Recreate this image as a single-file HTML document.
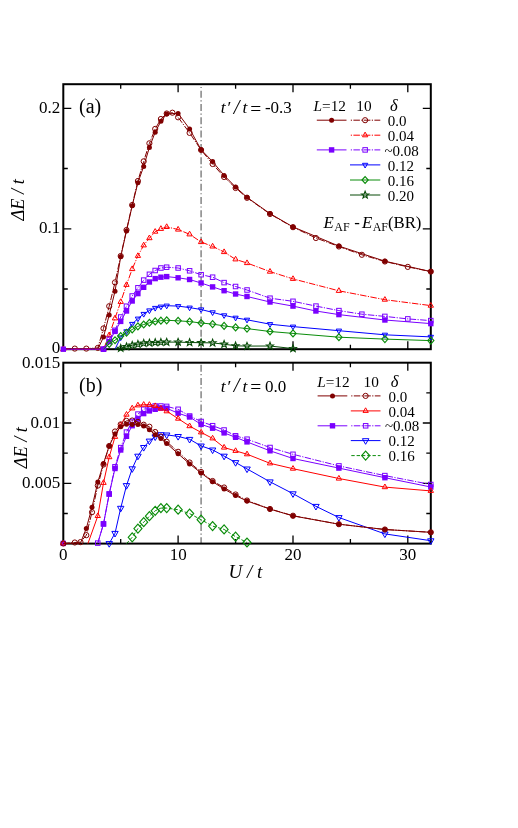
<!DOCTYPE html>
<html><head><meta charset="utf-8"><title>figure</title>
<style>
html,body{margin:0;padding:0;background:#fff;}
body{width:518px;height:828px;overflow:hidden;}
svg{display:block;will-change:transform;}
text{font-family:"Liberation Serif",serif;fill:#000;}
.i{font-style:italic;}
</style></head><body>
<svg width="518" height="828" viewBox="0 0 518 828">
<rect width="518" height="828" fill="#fff"/>
<g stroke="#858585" stroke-width="1.5" stroke-dasharray="7 2.4 1.2 2.68" fill="none">
<line x1="201.1" y1="84.2" x2="201.1" y2="349" stroke-dashoffset="6.7"/>
<line x1="201.1" y1="362.7" x2="201.1" y2="543.5" stroke-dashoffset="11.3"/>
</g>
<g stroke="#000" stroke-width="1.3" fill="none">
<path d="M120.7 84.2v4.5M120.7 349.2v-4.5"/>
<path d="M178.1 84.2v8M178.1 349.2v-8"/>
<path d="M235.6 84.2v4.5M235.6 349.2v-4.5"/>
<path d="M293.0 84.2v8M293.0 349.2v-8"/>
<path d="M350.4 84.2v4.5M350.4 349.2v-4.5"/>
<path d="M407.8 84.2v8M407.8 349.2v-8"/>
<path d="M63.3 108.3h8M430.8 108.3h-8"/>
<path d="M63.3 228.8h8M430.8 228.8h-8"/>
<path d="M63.3 168.5h4.5M430.8 168.5h-4.5"/>
<path d="M63.3 289.0h4.5M430.8 289.0h-4.5"/>
</g>
<g stroke="#000" stroke-width="1.3" fill="none">
<path d="M120.7 362.7v4.5M120.7 543.6v-4.5"/>
<path d="M178.1 362.7v8M178.1 543.6v-8"/>
<path d="M235.6 362.7v4.5M235.6 543.6v-4.5"/>
<path d="M293.0 362.7v8M293.0 543.6v-8"/>
<path d="M350.4 362.7v4.5M350.4 543.6v-4.5"/>
<path d="M407.8 362.7v8M407.8 543.6v-8"/>
<path d="M63.3 423.0h8M430.8 423.0h-8"/>
<path d="M63.3 483.3h8M430.8 483.3h-8"/>
<path d="M63.3 392.9h4.5M430.8 392.9h-4.5"/>
<path d="M63.3 453.1h4.5M430.8 453.1h-4.5"/>
<path d="M63.3 513.5h4.5M430.8 513.5h-4.5"/>
</g>
<g fill="none" stroke="#000" stroke-width="2">
<rect x="63.3" y="84.2" width="367.5" height="265"/>
<rect x="63.3" y="362.7" width="367.5" height="180.9"/>
</g>
<g id="pa">
<polyline points="63.3,349.2 97.8,349.2 103.5,337.1 109.2,314.9 115.0,291.3 120.7,256.8 126.5,230.9 132.2,205.8 137.9,182.7 143.7,166.4 149.4,147.4 155.2,132.2 160.9,121.3 166.7,113.9 178.1,113.4 189.6,128.9 201.1,149.7 212.6,161.6 224.1,175.4 235.6,187.0 247.0,197.3 270.0,213.6 293.0,226.9 338.9,246.1 384.9,261.2 430.8,271.6" fill="none" stroke="#800000" stroke-width="1.0"/>
<circle cx="103.5" cy="337.1" r="2.50" fill="#800000"/>
<circle cx="109.2" cy="314.9" r="2.50" fill="#800000"/>
<circle cx="115.0" cy="291.3" r="2.50" fill="#800000"/>
<circle cx="120.7" cy="256.8" r="2.50" fill="#800000"/>
<circle cx="126.5" cy="230.9" r="2.50" fill="#800000"/>
<circle cx="132.2" cy="205.8" r="2.50" fill="#800000"/>
<circle cx="137.9" cy="182.7" r="2.50" fill="#800000"/>
<circle cx="143.7" cy="166.4" r="2.50" fill="#800000"/>
<circle cx="149.4" cy="147.4" r="2.50" fill="#800000"/>
<circle cx="155.2" cy="132.2" r="2.50" fill="#800000"/>
<circle cx="160.9" cy="121.3" r="2.50" fill="#800000"/>
<circle cx="166.7" cy="113.9" r="2.50" fill="#800000"/>
<circle cx="178.1" cy="113.4" r="2.50" fill="#800000"/>
<circle cx="189.6" cy="128.9" r="2.50" fill="#800000"/>
<circle cx="201.1" cy="149.7" r="2.50" fill="#800000"/>
<circle cx="212.6" cy="161.6" r="2.50" fill="#800000"/>
<circle cx="224.1" cy="175.4" r="2.50" fill="#800000"/>
<circle cx="235.6" cy="187.0" r="2.50" fill="#800000"/>
<circle cx="247.0" cy="197.3" r="2.50" fill="#800000"/>
<circle cx="270.0" cy="213.6" r="2.50" fill="#800000"/>
<circle cx="293.0" cy="226.9" r="2.50" fill="#800000"/>
<circle cx="338.9" cy="246.1" r="2.50" fill="#800000"/>
<circle cx="384.9" cy="261.2" r="2.50" fill="#800000"/>
<circle cx="430.8" cy="271.6" r="2.50" fill="#800000"/>
<polyline points="63.3,349.2 74.8,348.6 86.3,348.6 97.8,347.9 103.5,328.4 109.2,306.2 115.0,282.4 120.7,256.0 126.5,230.0 132.2,205.0 137.9,181.0 143.7,161.3 149.4,143.3 155.2,128.9 160.9,119.0 166.7,113.5 172.4,112.7 178.1,117.3 189.6,132.9 201.1,150.0 212.6,164.0 224.1,177.0 235.6,188.0 247.0,197.8 270.0,214.0 293.0,227.2 315.9,238.0 338.9,246.5 361.9,254.8 384.9,261.5 407.8,266.9 430.8,271.6" fill="none" stroke="#800000" stroke-width="1.0" stroke-dasharray="6.5 1.4 1.2 1.4"/>
<circle cx="74.8" cy="348.6" r="2.60" fill="none" stroke="#800000" stroke-width="1.0"/>
<circle cx="86.3" cy="348.6" r="2.60" fill="none" stroke="#800000" stroke-width="1.0"/>
<circle cx="97.8" cy="347.9" r="2.60" fill="none" stroke="#800000" stroke-width="1.0"/>
<circle cx="103.5" cy="328.4" r="2.60" fill="none" stroke="#800000" stroke-width="1.0"/>
<circle cx="109.2" cy="306.2" r="2.60" fill="none" stroke="#800000" stroke-width="1.0"/>
<circle cx="115.0" cy="282.4" r="2.60" fill="none" stroke="#800000" stroke-width="1.0"/>
<circle cx="120.7" cy="256.0" r="2.60" fill="none" stroke="#800000" stroke-width="1.0"/>
<circle cx="126.5" cy="230.0" r="2.60" fill="none" stroke="#800000" stroke-width="1.0"/>
<circle cx="132.2" cy="205.0" r="2.60" fill="none" stroke="#800000" stroke-width="1.0"/>
<circle cx="137.9" cy="181.0" r="2.60" fill="none" stroke="#800000" stroke-width="1.0"/>
<circle cx="143.7" cy="161.3" r="2.60" fill="none" stroke="#800000" stroke-width="1.0"/>
<circle cx="149.4" cy="143.3" r="2.60" fill="none" stroke="#800000" stroke-width="1.0"/>
<circle cx="155.2" cy="128.9" r="2.60" fill="none" stroke="#800000" stroke-width="1.0"/>
<circle cx="160.9" cy="119.0" r="2.60" fill="none" stroke="#800000" stroke-width="1.0"/>
<circle cx="166.7" cy="113.5" r="2.60" fill="none" stroke="#800000" stroke-width="1.0"/>
<circle cx="172.4" cy="112.7" r="2.60" fill="none" stroke="#800000" stroke-width="1.0"/>
<circle cx="178.1" cy="117.3" r="2.60" fill="none" stroke="#800000" stroke-width="1.0"/>
<circle cx="189.6" cy="132.9" r="2.60" fill="none" stroke="#800000" stroke-width="1.0"/>
<circle cx="201.1" cy="150.0" r="2.60" fill="none" stroke="#800000" stroke-width="1.0"/>
<circle cx="212.6" cy="164.0" r="2.60" fill="none" stroke="#800000" stroke-width="1.0"/>
<circle cx="224.1" cy="177.0" r="2.60" fill="none" stroke="#800000" stroke-width="1.0"/>
<circle cx="235.6" cy="188.0" r="2.60" fill="none" stroke="#800000" stroke-width="1.0"/>
<circle cx="247.0" cy="197.8" r="2.60" fill="none" stroke="#800000" stroke-width="1.0"/>
<circle cx="270.0" cy="214.0" r="2.60" fill="none" stroke="#800000" stroke-width="1.0"/>
<circle cx="293.0" cy="227.2" r="2.60" fill="none" stroke="#800000" stroke-width="1.0"/>
<circle cx="315.9" cy="238.0" r="2.60" fill="none" stroke="#800000" stroke-width="1.0"/>
<circle cx="338.9" cy="246.5" r="2.60" fill="none" stroke="#800000" stroke-width="1.0"/>
<circle cx="361.9" cy="254.8" r="2.60" fill="none" stroke="#800000" stroke-width="1.0"/>
<circle cx="384.9" cy="261.5" r="2.60" fill="none" stroke="#800000" stroke-width="1.0"/>
<circle cx="407.8" cy="266.9" r="2.60" fill="none" stroke="#800000" stroke-width="1.0"/>
<circle cx="430.8" cy="271.6" r="2.60" fill="none" stroke="#800000" stroke-width="1.0"/>
<polyline points="63.3,349.2 103.5,349.2 109.2,335.1 115.0,318.3 120.7,301.9 126.5,284.9 132.2,269.0 137.9,255.9 143.7,245.3 149.4,238.1 155.2,231.7 160.9,228.8 166.7,226.9 178.1,229.5 189.6,234.3 201.1,242.0 212.6,246.4 224.1,252.0 235.6,259.4 247.0,263.0 270.0,271.6 293.0,278.9 338.9,290.8 384.9,299.7 430.8,305.6" fill="none" stroke="#ff0000" stroke-width="1.0" stroke-dasharray="6.5 1.4 1.2 1.4"/>
<path d="M60.6 350.8L66.0 350.8L63.3 346.1Z" fill="none" stroke="#ff0000" stroke-width="1.0"/>
<path d="M100.8 350.8L106.2 350.8L103.5 346.1Z" fill="none" stroke="#ff0000" stroke-width="1.0"/>
<path d="M106.6 336.7L111.9 336.7L109.2 332.0Z" fill="none" stroke="#ff0000" stroke-width="1.0"/>
<path d="M112.3 319.9L117.7 319.9L115.0 315.2Z" fill="none" stroke="#ff0000" stroke-width="1.0"/>
<path d="M118.0 303.4L123.4 303.4L120.7 298.8Z" fill="none" stroke="#ff0000" stroke-width="1.0"/>
<path d="M123.8 286.4L129.1 286.4L126.5 281.8Z" fill="none" stroke="#ff0000" stroke-width="1.0"/>
<path d="M129.5 270.6L134.9 270.6L132.2 265.9Z" fill="none" stroke="#ff0000" stroke-width="1.0"/>
<path d="M135.3 257.4L140.6 257.4L137.9 252.8Z" fill="none" stroke="#ff0000" stroke-width="1.0"/>
<path d="M141.0 246.9L146.4 246.9L143.7 242.2Z" fill="none" stroke="#ff0000" stroke-width="1.0"/>
<path d="M146.7 239.7L152.1 239.7L149.4 235.0Z" fill="none" stroke="#ff0000" stroke-width="1.0"/>
<path d="M152.5 233.2L157.9 233.2L155.2 228.6Z" fill="none" stroke="#ff0000" stroke-width="1.0"/>
<path d="M158.2 230.4L163.6 230.4L160.9 225.7Z" fill="none" stroke="#ff0000" stroke-width="1.0"/>
<path d="M164.0 228.5L169.3 228.5L166.7 223.8Z" fill="none" stroke="#ff0000" stroke-width="1.0"/>
<path d="M175.5 231.1L180.8 231.1L178.1 226.4Z" fill="none" stroke="#ff0000" stroke-width="1.0"/>
<path d="M186.9 235.9L192.3 235.9L189.6 231.2Z" fill="none" stroke="#ff0000" stroke-width="1.0"/>
<path d="M198.4 243.6L203.8 243.6L201.1 238.9Z" fill="none" stroke="#ff0000" stroke-width="1.0"/>
<path d="M209.9 248.0L215.3 248.0L212.6 243.3Z" fill="none" stroke="#ff0000" stroke-width="1.0"/>
<path d="M221.4 253.6L226.8 253.6L224.1 248.9Z" fill="none" stroke="#ff0000" stroke-width="1.0"/>
<path d="M232.9 260.9L238.2 260.9L235.6 256.3Z" fill="none" stroke="#ff0000" stroke-width="1.0"/>
<path d="M244.4 264.6L249.7 264.6L247.0 259.9Z" fill="none" stroke="#ff0000" stroke-width="1.0"/>
<path d="M267.3 273.2L272.7 273.2L270.0 268.5Z" fill="none" stroke="#ff0000" stroke-width="1.0"/>
<path d="M290.3 280.4L295.7 280.4L293.0 275.8Z" fill="none" stroke="#ff0000" stroke-width="1.0"/>
<path d="M336.2 292.4L341.6 292.4L338.9 287.7Z" fill="none" stroke="#ff0000" stroke-width="1.0"/>
<path d="M382.2 301.2L387.5 301.2L384.9 296.6Z" fill="none" stroke="#ff0000" stroke-width="1.0"/>
<path d="M428.1 307.2L433.5 307.2L430.8 302.5Z" fill="none" stroke="#ff0000" stroke-width="1.0"/>
<polyline points="63.3,349.2 103.5,349.2 109.2,341.7 115.0,331.4 120.7,321.4 126.5,311.0 132.2,301.0 137.9,293.6 143.7,287.3 149.4,282.0 155.2,278.6 160.9,277.2 166.7,276.6 178.1,277.8 189.6,279.5 201.1,283.0 212.6,286.9 224.1,290.7 235.6,294.0 247.0,296.5 270.0,302.0 293.0,306.1 315.9,311.0 338.9,314.6 384.9,320.0 430.8,323.6" fill="none" stroke="#7a00ff" stroke-width="1.0"/>
<rect x="60.6" y="346.5" width="5.4" height="5.4" fill="#7a00ff"/>
<rect x="100.8" y="346.5" width="5.4" height="5.4" fill="#7a00ff"/>
<rect x="106.5" y="339.0" width="5.4" height="5.4" fill="#7a00ff"/>
<rect x="112.3" y="328.7" width="5.4" height="5.4" fill="#7a00ff"/>
<rect x="118.0" y="318.7" width="5.4" height="5.4" fill="#7a00ff"/>
<rect x="123.8" y="308.3" width="5.4" height="5.4" fill="#7a00ff"/>
<rect x="129.5" y="298.3" width="5.4" height="5.4" fill="#7a00ff"/>
<rect x="135.2" y="290.9" width="5.4" height="5.4" fill="#7a00ff"/>
<rect x="141.0" y="284.6" width="5.4" height="5.4" fill="#7a00ff"/>
<rect x="146.7" y="279.3" width="5.4" height="5.4" fill="#7a00ff"/>
<rect x="152.5" y="275.9" width="5.4" height="5.4" fill="#7a00ff"/>
<rect x="158.2" y="274.5" width="5.4" height="5.4" fill="#7a00ff"/>
<rect x="164.0" y="273.9" width="5.4" height="5.4" fill="#7a00ff"/>
<rect x="175.4" y="275.1" width="5.4" height="5.4" fill="#7a00ff"/>
<rect x="186.9" y="276.8" width="5.4" height="5.4" fill="#7a00ff"/>
<rect x="198.4" y="280.3" width="5.4" height="5.4" fill="#7a00ff"/>
<rect x="209.9" y="284.2" width="5.4" height="5.4" fill="#7a00ff"/>
<rect x="221.4" y="288.0" width="5.4" height="5.4" fill="#7a00ff"/>
<rect x="232.9" y="291.3" width="5.4" height="5.4" fill="#7a00ff"/>
<rect x="244.3" y="293.8" width="5.4" height="5.4" fill="#7a00ff"/>
<rect x="267.3" y="299.3" width="5.4" height="5.4" fill="#7a00ff"/>
<rect x="290.3" y="303.4" width="5.4" height="5.4" fill="#7a00ff"/>
<rect x="313.2" y="308.3" width="5.4" height="5.4" fill="#7a00ff"/>
<rect x="336.2" y="311.9" width="5.4" height="5.4" fill="#7a00ff"/>
<rect x="382.2" y="317.3" width="5.4" height="5.4" fill="#7a00ff"/>
<rect x="428.1" y="320.9" width="5.4" height="5.4" fill="#7a00ff"/>
<polyline points="103.5,349.2 109.2,339.3 115.0,330.3 120.7,317.0 126.5,306.2 132.2,296.0 137.9,287.8 143.7,280.1 149.4,274.3 155.2,270.5 160.9,268.0 166.7,267.2 178.1,268.0 189.6,270.8 201.1,274.7 212.6,277.2 224.1,282.6 235.6,286.5 247.0,290.0 270.0,298.2 293.0,301.3 315.9,306.1 338.9,310.6 361.9,314.2 384.9,316.4 407.8,318.9 430.8,320.6" fill="none" stroke="#7a00ff" stroke-width="1.0" stroke-dasharray="6.5 1.4 1.2 1.4"/>
<rect x="101.24" y="346.95" width="4.50" height="4.50" fill="none" stroke="#7a00ff" stroke-width="1.0"/>
<rect x="106.99" y="337.05" width="4.50" height="4.50" fill="none" stroke="#7a00ff" stroke-width="1.0"/>
<rect x="112.73" y="328.05" width="4.50" height="4.50" fill="none" stroke="#7a00ff" stroke-width="1.0"/>
<rect x="118.47" y="314.75" width="4.50" height="4.50" fill="none" stroke="#7a00ff" stroke-width="1.0"/>
<rect x="124.21" y="303.95" width="4.50" height="4.50" fill="none" stroke="#7a00ff" stroke-width="1.0"/>
<rect x="129.95" y="293.75" width="4.50" height="4.50" fill="none" stroke="#7a00ff" stroke-width="1.0"/>
<rect x="135.70" y="285.55" width="4.50" height="4.50" fill="none" stroke="#7a00ff" stroke-width="1.0"/>
<rect x="141.44" y="277.85" width="4.50" height="4.50" fill="none" stroke="#7a00ff" stroke-width="1.0"/>
<rect x="147.18" y="272.05" width="4.50" height="4.50" fill="none" stroke="#7a00ff" stroke-width="1.0"/>
<rect x="152.92" y="268.25" width="4.50" height="4.50" fill="none" stroke="#7a00ff" stroke-width="1.0"/>
<rect x="158.66" y="265.75" width="4.50" height="4.50" fill="none" stroke="#7a00ff" stroke-width="1.0"/>
<rect x="164.41" y="264.95" width="4.50" height="4.50" fill="none" stroke="#7a00ff" stroke-width="1.0"/>
<rect x="175.89" y="265.75" width="4.50" height="4.50" fill="none" stroke="#7a00ff" stroke-width="1.0"/>
<rect x="187.37" y="268.55" width="4.50" height="4.50" fill="none" stroke="#7a00ff" stroke-width="1.0"/>
<rect x="198.86" y="272.45" width="4.50" height="4.50" fill="none" stroke="#7a00ff" stroke-width="1.0"/>
<rect x="210.34" y="274.95" width="4.50" height="4.50" fill="none" stroke="#7a00ff" stroke-width="1.0"/>
<rect x="221.83" y="280.35" width="4.50" height="4.50" fill="none" stroke="#7a00ff" stroke-width="1.0"/>
<rect x="233.31" y="284.25" width="4.50" height="4.50" fill="none" stroke="#7a00ff" stroke-width="1.0"/>
<rect x="244.79" y="287.75" width="4.50" height="4.50" fill="none" stroke="#7a00ff" stroke-width="1.0"/>
<rect x="267.76" y="295.95" width="4.50" height="4.50" fill="none" stroke="#7a00ff" stroke-width="1.0"/>
<rect x="290.73" y="299.05" width="4.50" height="4.50" fill="none" stroke="#7a00ff" stroke-width="1.0"/>
<rect x="313.70" y="303.85" width="4.50" height="4.50" fill="none" stroke="#7a00ff" stroke-width="1.0"/>
<rect x="336.67" y="308.35" width="4.50" height="4.50" fill="none" stroke="#7a00ff" stroke-width="1.0"/>
<rect x="359.63" y="311.95" width="4.50" height="4.50" fill="none" stroke="#7a00ff" stroke-width="1.0"/>
<rect x="382.60" y="314.15" width="4.50" height="4.50" fill="none" stroke="#7a00ff" stroke-width="1.0"/>
<rect x="405.57" y="316.65" width="4.50" height="4.50" fill="none" stroke="#7a00ff" stroke-width="1.0"/>
<rect x="428.54" y="318.35" width="4.50" height="4.50" fill="none" stroke="#7a00ff" stroke-width="1.0"/>
<polyline points="115.0,349.2 120.7,337.5 126.5,331.4 132.2,324.0 137.9,318.6 143.7,314.0 149.4,310.5 155.2,308.0 160.9,306.6 166.7,305.7 178.1,306.1 189.6,307.6 201.1,309.5 212.6,312.4 224.1,315.3 235.6,317.8 247.0,319.8 270.0,324.2 293.0,326.6 338.9,330.7 384.9,334.8 430.8,336.9" fill="none" stroke="#0000ff" stroke-width="1.0"/>
<path d="M118.0 335.9L123.4 335.9L120.7 340.6Z" fill="none" stroke="#0000ff" stroke-width="1.0"/>
<path d="M123.8 329.8L129.1 329.8L126.5 334.5Z" fill="none" stroke="#0000ff" stroke-width="1.0"/>
<path d="M129.5 322.4L134.9 322.4L132.2 327.1Z" fill="none" stroke="#0000ff" stroke-width="1.0"/>
<path d="M135.3 317.1L140.6 317.1L137.9 321.7Z" fill="none" stroke="#0000ff" stroke-width="1.0"/>
<path d="M141.0 312.4L146.4 312.4L143.7 317.1Z" fill="none" stroke="#0000ff" stroke-width="1.0"/>
<path d="M146.7 308.9L152.1 308.9L149.4 313.6Z" fill="none" stroke="#0000ff" stroke-width="1.0"/>
<path d="M152.5 306.4L157.9 306.4L155.2 311.1Z" fill="none" stroke="#0000ff" stroke-width="1.0"/>
<path d="M158.2 305.1L163.6 305.1L160.9 309.7Z" fill="none" stroke="#0000ff" stroke-width="1.0"/>
<path d="M164.0 304.1L169.3 304.1L166.7 308.8Z" fill="none" stroke="#0000ff" stroke-width="1.0"/>
<path d="M175.5 304.6L180.8 304.6L178.1 309.2Z" fill="none" stroke="#0000ff" stroke-width="1.0"/>
<path d="M186.9 306.1L192.3 306.1L189.6 310.7Z" fill="none" stroke="#0000ff" stroke-width="1.0"/>
<path d="M198.4 307.9L203.8 307.9L201.1 312.6Z" fill="none" stroke="#0000ff" stroke-width="1.0"/>
<path d="M209.9 310.8L215.3 310.8L212.6 315.5Z" fill="none" stroke="#0000ff" stroke-width="1.0"/>
<path d="M221.4 313.8L226.8 313.8L224.1 318.4Z" fill="none" stroke="#0000ff" stroke-width="1.0"/>
<path d="M232.9 316.2L238.2 316.2L235.6 320.9Z" fill="none" stroke="#0000ff" stroke-width="1.0"/>
<path d="M244.4 318.2L249.7 318.2L247.0 322.9Z" fill="none" stroke="#0000ff" stroke-width="1.0"/>
<path d="M267.3 322.6L272.7 322.6L270.0 327.3Z" fill="none" stroke="#0000ff" stroke-width="1.0"/>
<path d="M290.3 325.1L295.7 325.1L293.0 329.7Z" fill="none" stroke="#0000ff" stroke-width="1.0"/>
<path d="M336.2 329.1L341.6 329.1L338.9 333.8Z" fill="none" stroke="#0000ff" stroke-width="1.0"/>
<path d="M382.2 333.2L387.5 333.2L384.9 337.9Z" fill="none" stroke="#0000ff" stroke-width="1.0"/>
<path d="M428.1 335.3L433.5 335.3L430.8 340.0Z" fill="none" stroke="#0000ff" stroke-width="1.0"/>
<polyline points="103.5,349.2 109.2,343.9 115.0,340.2 120.7,336.0 126.5,332.8 132.2,329.5 137.9,326.4 143.7,324.5 149.4,322.8 155.2,321.4 160.9,320.7 166.7,320.3 178.1,320.8 189.6,321.6 201.1,323.0 212.6,324.1 224.1,325.9 235.6,327.4 247.0,328.6 270.0,331.5 293.0,333.4 338.9,337.2 384.9,339.1 430.8,340.6" fill="none" stroke="#0a8c0a" stroke-width="1.0"/>
<path d="M106.1 343.9L109.2 340.4L112.3 343.9L109.2 347.3Z" fill="none" stroke="#0a8c0a" stroke-width="1.15"/>
<path d="M111.9 340.2L115.0 336.8L118.1 340.2L115.0 343.6Z" fill="none" stroke="#0a8c0a" stroke-width="1.15"/>
<path d="M117.6 336.0L120.7 332.6L123.8 336.0L120.7 339.4Z" fill="none" stroke="#0a8c0a" stroke-width="1.15"/>
<path d="M123.4 332.8L126.5 329.4L129.6 332.8L126.5 336.2Z" fill="none" stroke="#0a8c0a" stroke-width="1.15"/>
<path d="M129.1 329.5L132.2 326.1L135.3 329.5L132.2 332.9Z" fill="none" stroke="#0a8c0a" stroke-width="1.15"/>
<path d="M134.8 326.4L137.9 322.9L141.0 326.4L137.9 329.8Z" fill="none" stroke="#0a8c0a" stroke-width="1.15"/>
<path d="M140.6 324.5L143.7 321.1L146.8 324.5L143.7 327.9Z" fill="none" stroke="#0a8c0a" stroke-width="1.15"/>
<path d="M146.3 322.8L149.4 319.4L152.5 322.8L149.4 326.2Z" fill="none" stroke="#0a8c0a" stroke-width="1.15"/>
<path d="M152.1 321.4L155.2 317.9L158.3 321.4L155.2 324.8Z" fill="none" stroke="#0a8c0a" stroke-width="1.15"/>
<path d="M157.8 320.7L160.9 317.2L164.0 320.7L160.9 324.1Z" fill="none" stroke="#0a8c0a" stroke-width="1.15"/>
<path d="M163.6 320.3L166.7 316.9L169.8 320.3L166.7 323.8Z" fill="none" stroke="#0a8c0a" stroke-width="1.15"/>
<path d="M175.0 320.8L178.1 317.4L181.2 320.8L178.1 324.2Z" fill="none" stroke="#0a8c0a" stroke-width="1.15"/>
<path d="M186.5 321.6L189.6 318.2L192.7 321.6L189.6 325.1Z" fill="none" stroke="#0a8c0a" stroke-width="1.15"/>
<path d="M198.0 323.0L201.1 319.6L204.2 323.0L201.1 326.4Z" fill="none" stroke="#0a8c0a" stroke-width="1.15"/>
<path d="M209.5 324.1L212.6 320.7L215.7 324.1L212.6 327.6Z" fill="none" stroke="#0a8c0a" stroke-width="1.15"/>
<path d="M221.0 325.9L224.1 322.4L227.2 325.9L224.1 329.3Z" fill="none" stroke="#0a8c0a" stroke-width="1.15"/>
<path d="M232.5 327.4L235.6 323.9L238.7 327.4L235.6 330.8Z" fill="none" stroke="#0a8c0a" stroke-width="1.15"/>
<path d="M243.9 328.6L247.0 325.2L250.1 328.6L247.0 332.1Z" fill="none" stroke="#0a8c0a" stroke-width="1.15"/>
<path d="M266.9 331.5L270.0 328.1L273.1 331.5L270.0 334.9Z" fill="none" stroke="#0a8c0a" stroke-width="1.15"/>
<path d="M289.9 333.4L293.0 329.9L296.1 333.4L293.0 336.8Z" fill="none" stroke="#0a8c0a" stroke-width="1.15"/>
<path d="M335.8 337.2L338.9 333.8L342.0 337.2L338.9 340.6Z" fill="none" stroke="#0a8c0a" stroke-width="1.15"/>
<path d="M381.8 339.1L384.9 335.7L388.0 339.1L384.9 342.6Z" fill="none" stroke="#0a8c0a" stroke-width="1.15"/>
<path d="M427.7 340.6L430.8 337.2L433.9 340.6L430.8 344.1Z" fill="none" stroke="#0a8c0a" stroke-width="1.15"/>
<polyline points="115.0,349.2 120.7,348.3 126.5,346.7 132.2,345.2 137.9,344.2 143.7,343.2 149.4,342.9 155.2,342.5 160.9,342.3 166.7,342.1 178.1,342.1 189.6,342.5 201.1,342.7 212.6,342.9 224.1,344.2 235.6,345.8 247.0,346.1 270.0,346.0 293.0,348.6" fill="none" stroke="#064a06" stroke-width="1.0"/>
<path d="M120.7 344.6L121.6 347.0L124.2 347.2L122.2 348.8L122.9 351.3L120.7 349.9L118.5 351.3L119.2 348.8L117.2 347.2L119.8 347.0Z" fill="none" stroke="#064a06" stroke-width="1.1"/>
<path d="M126.5 343.0L127.4 345.4L130.0 345.6L127.9 347.2L128.6 349.7L126.5 348.2L124.3 349.7L125.0 347.2L122.9 345.6L125.6 345.4Z" fill="none" stroke="#064a06" stroke-width="1.1"/>
<path d="M132.2 341.5L133.1 343.9L135.7 344.1L133.7 345.7L134.4 348.2L132.2 346.8L130.0 348.2L130.7 345.7L128.7 344.1L131.3 343.9Z" fill="none" stroke="#064a06" stroke-width="1.1"/>
<path d="M137.9 340.5L138.9 342.9L141.5 343.1L139.4 344.7L140.1 347.2L137.9 345.8L135.8 347.2L136.5 344.7L134.4 343.1L137.0 342.9Z" fill="none" stroke="#064a06" stroke-width="1.1"/>
<path d="M143.7 339.5L144.6 341.9L147.2 342.1L145.2 343.7L145.9 346.2L143.7 344.8L141.5 346.2L142.2 343.7L140.2 342.1L142.8 341.9Z" fill="none" stroke="#064a06" stroke-width="1.1"/>
<path d="M149.4 339.2L150.3 341.6L152.9 341.8L150.9 343.4L151.6 345.9L149.4 344.4L147.3 345.9L148.0 343.4L145.9 341.8L148.5 341.6Z" fill="none" stroke="#064a06" stroke-width="1.1"/>
<path d="M155.2 338.8L156.1 341.2L158.7 341.4L156.6 343.0L157.3 345.5L155.2 344.1L153.0 345.5L153.7 343.0L151.7 341.4L154.3 341.2Z" fill="none" stroke="#064a06" stroke-width="1.1"/>
<path d="M160.9 338.6L161.8 341.0L164.4 341.2L162.4 342.8L163.1 345.3L160.9 343.9L158.7 345.3L159.4 342.8L157.4 341.2L160.0 341.0Z" fill="none" stroke="#064a06" stroke-width="1.1"/>
<path d="M166.7 338.4L167.6 340.8L170.2 341.0L168.1 342.6L168.8 345.1L166.7 343.7L164.5 345.1L165.2 342.6L163.1 341.0L165.7 340.8Z" fill="none" stroke="#064a06" stroke-width="1.1"/>
<path d="M178.1 338.4L179.1 340.8L181.7 341.0L179.6 342.6L180.3 345.1L178.1 343.7L176.0 345.1L176.7 342.6L174.6 341.0L177.2 340.8Z" fill="none" stroke="#064a06" stroke-width="1.1"/>
<path d="M189.6 338.8L190.5 341.2L193.1 341.4L191.1 343.0L191.8 345.5L189.6 344.1L187.4 345.5L188.1 343.0L186.1 341.4L188.7 341.2Z" fill="none" stroke="#064a06" stroke-width="1.1"/>
<path d="M201.1 339.0L202.0 341.4L204.6 341.6L202.6 343.2L203.3 345.7L201.1 344.2L198.9 345.7L199.6 343.2L197.6 341.6L200.2 341.4Z" fill="none" stroke="#064a06" stroke-width="1.1"/>
<path d="M212.6 339.2L213.5 341.6L216.1 341.8L214.1 343.4L214.8 345.9L212.6 344.4L210.4 345.9L211.1 343.4L209.1 341.8L211.7 341.6Z" fill="none" stroke="#064a06" stroke-width="1.1"/>
<path d="M224.1 340.5L225.0 342.9L227.6 343.1L225.6 344.7L226.3 347.2L224.1 345.8L221.9 347.2L222.6 344.7L220.6 343.1L223.2 342.9Z" fill="none" stroke="#064a06" stroke-width="1.1"/>
<path d="M235.6 342.1L236.5 344.5L239.1 344.7L237.0 346.3L237.7 348.8L235.6 347.4L233.4 348.8L234.1 346.3L232.0 344.7L234.6 344.5Z" fill="none" stroke="#064a06" stroke-width="1.1"/>
<path d="M247.0 342.4L248.0 344.8L250.6 345.0L248.5 346.6L249.2 349.1L247.0 347.7L244.9 349.1L245.6 346.6L243.5 345.0L246.1 344.8Z" fill="none" stroke="#064a06" stroke-width="1.1"/>
<path d="M270.0 342.3L270.9 344.7L273.5 344.9L271.5 346.5L272.2 349.0L270.0 347.6L267.8 349.0L268.5 346.5L266.5 344.9L269.1 344.7Z" fill="none" stroke="#064a06" stroke-width="1.1"/>
<path d="M293.0 344.9L293.9 347.3L296.5 347.5L294.5 349.1L295.2 351.6L293.0 350.2L290.8 351.6L291.5 349.1L289.5 347.5L292.1 347.3Z" fill="none" stroke="#064a06" stroke-width="1.1"/>
</g>
<g id="pb">
<polyline points="126.5,543.6 132.2,537.3 137.9,528.6 143.7,522.2 149.4,516.2 155.2,510.8 160.9,508.1 166.7,508.1 178.1,509.7 189.6,513.6 201.1,519.7 212.6,526.1 224.1,529.4 235.6,536.7 247.0,542.5" fill="none" stroke="#0a8c0a" stroke-width="1.0" stroke-dasharray="3.4 1.9"/>
<path d="M128.2 537.3L132.2 532.8L136.2 537.3L132.2 541.8Z" fill="none" stroke="#0a8c0a" stroke-width="1.15"/>
<path d="M133.9 528.6L137.9 524.1L142.0 528.6L137.9 533.1Z" fill="none" stroke="#0a8c0a" stroke-width="1.15"/>
<path d="M139.7 522.2L143.7 517.7L147.7 522.2L143.7 526.7Z" fill="none" stroke="#0a8c0a" stroke-width="1.15"/>
<path d="M145.4 516.2L149.4 511.7L153.5 516.2L149.4 520.7Z" fill="none" stroke="#0a8c0a" stroke-width="1.15"/>
<path d="M151.1 510.8L155.2 506.3L159.2 510.8L155.2 515.3Z" fill="none" stroke="#0a8c0a" stroke-width="1.15"/>
<path d="M156.9 508.1L160.9 503.6L164.9 508.1L160.9 512.6Z" fill="none" stroke="#0a8c0a" stroke-width="1.15"/>
<path d="M162.6 508.1L166.7 503.6L170.7 508.1L166.7 512.6Z" fill="none" stroke="#0a8c0a" stroke-width="1.15"/>
<path d="M174.1 509.7L178.1 505.2L182.2 509.7L178.1 514.2Z" fill="none" stroke="#0a8c0a" stroke-width="1.15"/>
<path d="M185.6 513.6L189.6 509.1L193.7 513.6L189.6 518.1Z" fill="none" stroke="#0a8c0a" stroke-width="1.15"/>
<path d="M197.1 519.7L201.1 515.2L205.1 519.7L201.1 524.2Z" fill="none" stroke="#0a8c0a" stroke-width="1.15"/>
<path d="M208.6 526.1L212.6 521.6L216.6 526.1L212.6 530.6Z" fill="none" stroke="#0a8c0a" stroke-width="1.15"/>
<path d="M220.0 529.4L224.1 524.9L228.1 529.4L224.1 533.9Z" fill="none" stroke="#0a8c0a" stroke-width="1.15"/>
<path d="M231.5 536.7L235.6 532.2L239.6 536.7L235.6 541.2Z" fill="none" stroke="#0a8c0a" stroke-width="1.15"/>
<path d="M243.0 542.5L247.0 538.0L251.1 542.5L247.0 547.0Z" fill="none" stroke="#0a8c0a" stroke-width="1.15"/>
<polyline points="109.2,543.5 115.0,533.3 120.7,508.2 126.5,485.5 132.2,468.7 137.9,456.1 143.7,447.4 149.4,441.0 155.2,436.8 160.9,434.6 166.7,434.9 178.1,436.4 189.6,439.3 201.1,445.9 212.6,449.9 224.1,456.1 235.6,462.5 247.0,468.9 270.0,481.8 293.0,493.7 315.9,506.3 338.9,517.5 384.9,533.9 430.8,540.7" fill="none" stroke="#0000ff" stroke-width="1.0"/>
<path d="M106.0 541.6L112.5 541.6L109.2 547.2Z" fill="none" stroke="#0000ff" stroke-width="1.0"/>
<path d="M111.8 531.4L118.2 531.4L115.0 537.0Z" fill="none" stroke="#0000ff" stroke-width="1.0"/>
<path d="M117.5 506.3L123.9 506.3L120.7 511.9Z" fill="none" stroke="#0000ff" stroke-width="1.0"/>
<path d="M123.2 483.6L129.7 483.6L126.5 489.2Z" fill="none" stroke="#0000ff" stroke-width="1.0"/>
<path d="M129.0 466.8L135.4 466.8L132.2 472.4Z" fill="none" stroke="#0000ff" stroke-width="1.0"/>
<path d="M134.7 454.2L141.2 454.2L137.9 459.8Z" fill="none" stroke="#0000ff" stroke-width="1.0"/>
<path d="M140.5 445.5L146.9 445.5L143.7 451.1Z" fill="none" stroke="#0000ff" stroke-width="1.0"/>
<path d="M146.2 439.1L152.7 439.1L149.4 444.7Z" fill="none" stroke="#0000ff" stroke-width="1.0"/>
<path d="M152.0 434.9L158.4 434.9L155.2 440.5Z" fill="none" stroke="#0000ff" stroke-width="1.0"/>
<path d="M157.7 432.7L164.1 432.7L160.9 438.3Z" fill="none" stroke="#0000ff" stroke-width="1.0"/>
<path d="M163.4 433.0L169.9 433.0L166.7 438.6Z" fill="none" stroke="#0000ff" stroke-width="1.0"/>
<path d="M174.9 434.5L181.4 434.5L178.1 440.1Z" fill="none" stroke="#0000ff" stroke-width="1.0"/>
<path d="M186.4 437.4L192.8 437.4L189.6 443.0Z" fill="none" stroke="#0000ff" stroke-width="1.0"/>
<path d="M197.9 444.0L204.3 444.0L201.1 449.6Z" fill="none" stroke="#0000ff" stroke-width="1.0"/>
<path d="M209.4 448.0L215.8 448.0L212.6 453.6Z" fill="none" stroke="#0000ff" stroke-width="1.0"/>
<path d="M220.9 454.2L227.3 454.2L224.1 459.8Z" fill="none" stroke="#0000ff" stroke-width="1.0"/>
<path d="M232.3 460.6L238.8 460.6L235.6 466.2Z" fill="none" stroke="#0000ff" stroke-width="1.0"/>
<path d="M243.8 467.0L250.3 467.0L247.0 472.6Z" fill="none" stroke="#0000ff" stroke-width="1.0"/>
<path d="M266.8 479.9L273.2 479.9L270.0 485.5Z" fill="none" stroke="#0000ff" stroke-width="1.0"/>
<path d="M289.8 491.8L296.2 491.8L293.0 497.4Z" fill="none" stroke="#0000ff" stroke-width="1.0"/>
<path d="M312.7 504.4L319.2 504.4L315.9 510.0Z" fill="none" stroke="#0000ff" stroke-width="1.0"/>
<path d="M335.7 515.6L342.1 515.6L338.9 521.2Z" fill="none" stroke="#0000ff" stroke-width="1.0"/>
<path d="M381.6 532.0L388.1 532.0L384.9 537.6Z" fill="none" stroke="#0000ff" stroke-width="1.0"/>
<path d="M427.6 538.8L434.0 538.8L430.8 544.4Z" fill="none" stroke="#0000ff" stroke-width="1.0"/>
<polyline points="97.8,543.1 103.5,523.9 109.2,494.0 115.0,466.8 120.7,447.6 126.5,432.1 132.2,421.5 137.9,414.1 143.7,409.3 149.4,407.0 155.2,406.0 160.9,406.0 166.7,406.4 178.1,409.3 189.6,416.0 201.1,421.5 212.6,425.7 224.1,430.0 235.6,435.8 247.0,439.2 270.0,447.5 293.0,454.3 338.9,465.9 384.9,475.6 430.8,484.5" fill="none" stroke="#7a00ff" stroke-width="1.0" stroke-dasharray="6.5 1.4 1.2 1.4"/>
<rect x="95.50" y="540.85" width="4.50" height="4.50" fill="none" stroke="#7a00ff" stroke-width="1.0"/>
<rect x="101.24" y="521.65" width="4.50" height="4.50" fill="none" stroke="#7a00ff" stroke-width="1.0"/>
<rect x="106.99" y="491.75" width="4.50" height="4.50" fill="none" stroke="#7a00ff" stroke-width="1.0"/>
<rect x="112.73" y="464.55" width="4.50" height="4.50" fill="none" stroke="#7a00ff" stroke-width="1.0"/>
<rect x="118.47" y="445.35" width="4.50" height="4.50" fill="none" stroke="#7a00ff" stroke-width="1.0"/>
<rect x="124.21" y="429.85" width="4.50" height="4.50" fill="none" stroke="#7a00ff" stroke-width="1.0"/>
<rect x="129.95" y="419.25" width="4.50" height="4.50" fill="none" stroke="#7a00ff" stroke-width="1.0"/>
<rect x="135.70" y="411.85" width="4.50" height="4.50" fill="none" stroke="#7a00ff" stroke-width="1.0"/>
<rect x="141.44" y="407.05" width="4.50" height="4.50" fill="none" stroke="#7a00ff" stroke-width="1.0"/>
<rect x="147.18" y="404.75" width="4.50" height="4.50" fill="none" stroke="#7a00ff" stroke-width="1.0"/>
<rect x="152.92" y="403.75" width="4.50" height="4.50" fill="none" stroke="#7a00ff" stroke-width="1.0"/>
<rect x="158.66" y="403.75" width="4.50" height="4.50" fill="none" stroke="#7a00ff" stroke-width="1.0"/>
<rect x="164.41" y="404.15" width="4.50" height="4.50" fill="none" stroke="#7a00ff" stroke-width="1.0"/>
<rect x="175.89" y="407.05" width="4.50" height="4.50" fill="none" stroke="#7a00ff" stroke-width="1.0"/>
<rect x="187.37" y="413.75" width="4.50" height="4.50" fill="none" stroke="#7a00ff" stroke-width="1.0"/>
<rect x="198.86" y="419.25" width="4.50" height="4.50" fill="none" stroke="#7a00ff" stroke-width="1.0"/>
<rect x="210.34" y="423.45" width="4.50" height="4.50" fill="none" stroke="#7a00ff" stroke-width="1.0"/>
<rect x="221.83" y="427.75" width="4.50" height="4.50" fill="none" stroke="#7a00ff" stroke-width="1.0"/>
<rect x="233.31" y="433.55" width="4.50" height="4.50" fill="none" stroke="#7a00ff" stroke-width="1.0"/>
<rect x="244.79" y="436.95" width="4.50" height="4.50" fill="none" stroke="#7a00ff" stroke-width="1.0"/>
<rect x="267.76" y="445.25" width="4.50" height="4.50" fill="none" stroke="#7a00ff" stroke-width="1.0"/>
<rect x="290.73" y="452.05" width="4.50" height="4.50" fill="none" stroke="#7a00ff" stroke-width="1.0"/>
<rect x="336.67" y="463.65" width="4.50" height="4.50" fill="none" stroke="#7a00ff" stroke-width="1.0"/>
<rect x="382.60" y="473.35" width="4.50" height="4.50" fill="none" stroke="#7a00ff" stroke-width="1.0"/>
<rect x="428.54" y="482.25" width="4.50" height="4.50" fill="none" stroke="#7a00ff" stroke-width="1.0"/>
<polyline points="97.8,543.1 103.5,523.9 109.2,494.0 115.0,468.5 120.7,450.0 126.5,436.3 132.2,425.7 137.9,419.0 143.7,413.6 149.4,410.9 155.2,409.3 160.9,408.1 166.7,408.3 178.1,413.2 189.6,417.0 201.1,424.4 212.6,428.2 224.1,432.9 235.6,437.3 247.0,441.9 270.0,450.8 293.0,458.5 338.9,468.1 384.9,477.7 430.8,487.0" fill="none" stroke="#7a00ff" stroke-width="1.0"/>
<rect x="100.8" y="521.2" width="5.4" height="5.4" fill="#7a00ff"/>
<rect x="106.5" y="491.3" width="5.4" height="5.4" fill="#7a00ff"/>
<rect x="112.3" y="465.8" width="5.4" height="5.4" fill="#7a00ff"/>
<rect x="118.0" y="447.3" width="5.4" height="5.4" fill="#7a00ff"/>
<rect x="123.8" y="433.6" width="5.4" height="5.4" fill="#7a00ff"/>
<rect x="129.5" y="423.0" width="5.4" height="5.4" fill="#7a00ff"/>
<rect x="135.2" y="416.3" width="5.4" height="5.4" fill="#7a00ff"/>
<rect x="141.0" y="410.9" width="5.4" height="5.4" fill="#7a00ff"/>
<rect x="146.7" y="408.2" width="5.4" height="5.4" fill="#7a00ff"/>
<rect x="152.5" y="406.6" width="5.4" height="5.4" fill="#7a00ff"/>
<rect x="158.2" y="405.4" width="5.4" height="5.4" fill="#7a00ff"/>
<rect x="164.0" y="405.6" width="5.4" height="5.4" fill="#7a00ff"/>
<rect x="175.4" y="410.5" width="5.4" height="5.4" fill="#7a00ff"/>
<rect x="186.9" y="414.3" width="5.4" height="5.4" fill="#7a00ff"/>
<rect x="198.4" y="421.7" width="5.4" height="5.4" fill="#7a00ff"/>
<rect x="209.9" y="425.5" width="5.4" height="5.4" fill="#7a00ff"/>
<rect x="221.4" y="430.2" width="5.4" height="5.4" fill="#7a00ff"/>
<rect x="232.9" y="434.6" width="5.4" height="5.4" fill="#7a00ff"/>
<rect x="244.3" y="439.2" width="5.4" height="5.4" fill="#7a00ff"/>
<rect x="267.3" y="448.1" width="5.4" height="5.4" fill="#7a00ff"/>
<rect x="290.3" y="455.8" width="5.4" height="5.4" fill="#7a00ff"/>
<rect x="336.2" y="465.4" width="5.4" height="5.4" fill="#7a00ff"/>
<rect x="382.2" y="475.0" width="5.4" height="5.4" fill="#7a00ff"/>
<rect x="428.1" y="484.3" width="5.4" height="5.4" fill="#7a00ff"/>
<rect x="60.6" y="540.7" width="5.4" height="5.4" fill="#7a00ff"/>
<polyline points="87.9,543.6 97.8,516.0 103.5,482.8 109.2,457.1 115.0,436.8 120.7,425.2 126.5,414.6 132.2,408.3 137.9,405.3 143.7,404.7 149.4,404.8 155.2,406.0 160.9,408.5 166.7,411.2 178.1,418.6 189.6,426.1 201.1,432.4 212.6,438.4 224.1,447.5 235.6,450.9 247.0,454.2 270.0,463.3 293.0,468.7 338.9,478.5 384.9,487.1 430.8,490.9" fill="none" stroke="#ff0000" stroke-width="1.0"/>
<path d="M95.1 517.5L100.4 517.5L97.8 512.9Z" fill="none" stroke="#ff0000" stroke-width="1.0"/>
<path d="M100.8 484.4L106.2 484.4L103.5 479.7Z" fill="none" stroke="#ff0000" stroke-width="1.0"/>
<path d="M106.6 458.7L111.9 458.7L109.2 454.0Z" fill="none" stroke="#ff0000" stroke-width="1.0"/>
<path d="M112.3 438.4L117.7 438.4L115.0 433.7Z" fill="none" stroke="#ff0000" stroke-width="1.0"/>
<path d="M118.0 426.8L123.4 426.8L120.7 422.1Z" fill="none" stroke="#ff0000" stroke-width="1.0"/>
<path d="M123.8 416.2L129.1 416.2L126.5 411.5Z" fill="none" stroke="#ff0000" stroke-width="1.0"/>
<path d="M129.5 409.9L134.9 409.9L132.2 405.2Z" fill="none" stroke="#ff0000" stroke-width="1.0"/>
<path d="M135.3 406.9L140.6 406.9L137.9 402.2Z" fill="none" stroke="#ff0000" stroke-width="1.0"/>
<path d="M141.0 406.2L146.4 406.2L143.7 401.6Z" fill="none" stroke="#ff0000" stroke-width="1.0"/>
<path d="M146.7 406.4L152.1 406.4L149.4 401.7Z" fill="none" stroke="#ff0000" stroke-width="1.0"/>
<path d="M152.5 407.6L157.9 407.6L155.2 402.9Z" fill="none" stroke="#ff0000" stroke-width="1.0"/>
<path d="M158.2 410.1L163.6 410.1L160.9 405.4Z" fill="none" stroke="#ff0000" stroke-width="1.0"/>
<path d="M164.0 412.8L169.3 412.8L166.7 408.1Z" fill="none" stroke="#ff0000" stroke-width="1.0"/>
<path d="M175.5 420.2L180.8 420.2L178.1 415.5Z" fill="none" stroke="#ff0000" stroke-width="1.0"/>
<path d="M186.9 427.7L192.3 427.7L189.6 423.0Z" fill="none" stroke="#ff0000" stroke-width="1.0"/>
<path d="M198.4 433.9L203.8 433.9L201.1 429.3Z" fill="none" stroke="#ff0000" stroke-width="1.0"/>
<path d="M209.9 439.9L215.3 439.9L212.6 435.3Z" fill="none" stroke="#ff0000" stroke-width="1.0"/>
<path d="M221.4 449.1L226.8 449.1L224.1 444.4Z" fill="none" stroke="#ff0000" stroke-width="1.0"/>
<path d="M232.9 452.4L238.2 452.4L235.6 447.8Z" fill="none" stroke="#ff0000" stroke-width="1.0"/>
<path d="M244.4 455.8L249.7 455.8L247.0 451.1Z" fill="none" stroke="#ff0000" stroke-width="1.0"/>
<path d="M267.3 464.9L272.7 464.9L270.0 460.2Z" fill="none" stroke="#ff0000" stroke-width="1.0"/>
<path d="M290.3 470.2L295.7 470.2L293.0 465.6Z" fill="none" stroke="#ff0000" stroke-width="1.0"/>
<path d="M336.2 480.1L341.6 480.1L338.9 475.4Z" fill="none" stroke="#ff0000" stroke-width="1.0"/>
<path d="M382.2 488.7L387.5 488.7L384.9 484.0Z" fill="none" stroke="#ff0000" stroke-width="1.0"/>
<path d="M428.1 492.4L433.5 492.4L430.8 487.8Z" fill="none" stroke="#ff0000" stroke-width="1.0"/>
<path d="M60.6 544.9L66.0 544.9L63.3 540.3Z" fill="none" stroke="#ff0000" stroke-width="1.0"/>
<polyline points="63.3,543.5 74.8,542.5 80.5,542.1 86.3,535.2 92.0,512.2 97.8,485.6 103.5,464.5 109.2,446.0 115.0,431.5 120.7,424.4 126.5,420.9 132.2,420.5 137.9,421.9 143.7,424.7 149.4,426.7 155.2,432.0 160.9,436.5 166.7,441.7 178.1,451.8 189.6,462.5 201.1,472.0 212.6,481.0 224.1,487.5 235.6,494.5 247.0,500.5 270.0,509.0 293.0,515.7 338.9,524.2 384.9,529.5 430.8,532.3" fill="none" stroke="#800000" stroke-width="1.0" stroke-dasharray="6.5 1.4 1.2 1.4"/>
<circle cx="63.3" cy="543.5" r="2.60" fill="none" stroke="#800000" stroke-width="1.0"/>
<circle cx="74.8" cy="542.5" r="2.60" fill="none" stroke="#800000" stroke-width="1.0"/>
<circle cx="80.5" cy="542.1" r="2.60" fill="none" stroke="#800000" stroke-width="1.0"/>
<circle cx="86.3" cy="535.2" r="2.60" fill="none" stroke="#800000" stroke-width="1.0"/>
<circle cx="92.0" cy="512.2" r="2.60" fill="none" stroke="#800000" stroke-width="1.0"/>
<circle cx="97.8" cy="485.6" r="2.60" fill="none" stroke="#800000" stroke-width="1.0"/>
<circle cx="103.5" cy="464.5" r="2.60" fill="none" stroke="#800000" stroke-width="1.0"/>
<circle cx="109.2" cy="446.0" r="2.60" fill="none" stroke="#800000" stroke-width="1.0"/>
<circle cx="115.0" cy="431.5" r="2.60" fill="none" stroke="#800000" stroke-width="1.0"/>
<circle cx="120.7" cy="424.4" r="2.60" fill="none" stroke="#800000" stroke-width="1.0"/>
<circle cx="126.5" cy="420.9" r="2.60" fill="none" stroke="#800000" stroke-width="1.0"/>
<circle cx="132.2" cy="420.5" r="2.60" fill="none" stroke="#800000" stroke-width="1.0"/>
<circle cx="137.9" cy="421.9" r="2.60" fill="none" stroke="#800000" stroke-width="1.0"/>
<circle cx="143.7" cy="424.7" r="2.60" fill="none" stroke="#800000" stroke-width="1.0"/>
<circle cx="149.4" cy="426.7" r="2.60" fill="none" stroke="#800000" stroke-width="1.0"/>
<circle cx="155.2" cy="432.0" r="2.60" fill="none" stroke="#800000" stroke-width="1.0"/>
<circle cx="160.9" cy="436.5" r="2.60" fill="none" stroke="#800000" stroke-width="1.0"/>
<circle cx="166.7" cy="441.7" r="2.60" fill="none" stroke="#800000" stroke-width="1.0"/>
<circle cx="178.1" cy="451.8" r="2.60" fill="none" stroke="#800000" stroke-width="1.0"/>
<circle cx="189.6" cy="462.5" r="2.60" fill="none" stroke="#800000" stroke-width="1.0"/>
<circle cx="201.1" cy="472.0" r="2.60" fill="none" stroke="#800000" stroke-width="1.0"/>
<circle cx="212.6" cy="481.0" r="2.60" fill="none" stroke="#800000" stroke-width="1.0"/>
<circle cx="224.1" cy="487.5" r="2.60" fill="none" stroke="#800000" stroke-width="1.0"/>
<circle cx="235.6" cy="494.5" r="2.60" fill="none" stroke="#800000" stroke-width="1.0"/>
<circle cx="247.0" cy="500.5" r="2.60" fill="none" stroke="#800000" stroke-width="1.0"/>
<circle cx="270.0" cy="509.0" r="2.60" fill="none" stroke="#800000" stroke-width="1.0"/>
<circle cx="293.0" cy="515.7" r="2.60" fill="none" stroke="#800000" stroke-width="1.0"/>
<circle cx="338.9" cy="524.2" r="2.60" fill="none" stroke="#800000" stroke-width="1.0"/>
<circle cx="384.9" cy="529.5" r="2.60" fill="none" stroke="#800000" stroke-width="1.0"/>
<circle cx="430.8" cy="532.3" r="2.60" fill="none" stroke="#800000" stroke-width="1.0"/>
<polyline points="63.3,543.6 80.5,543.0 86.3,528.4 92.0,507.2 97.8,482.1 103.5,463.4 109.2,446.0 115.0,434.0 120.7,426.7 126.5,424.2 132.2,424.4 137.9,424.4 143.7,426.1 149.4,429.8 155.2,434.8 160.9,438.4 166.7,443.5 178.1,453.7 189.6,463.9 201.1,473.0 212.6,481.7 224.1,489.0 235.6,495.6 247.0,501.0 270.0,509.1 293.0,515.9 338.9,524.2 384.9,529.5 430.8,532.3" fill="none" stroke="#800000" stroke-width="1.0"/>
<circle cx="86.3" cy="528.4" r="2.50" fill="#800000"/>
<circle cx="92.0" cy="507.2" r="2.50" fill="#800000"/>
<circle cx="97.8" cy="482.1" r="2.50" fill="#800000"/>
<circle cx="103.5" cy="463.4" r="2.50" fill="#800000"/>
<circle cx="109.2" cy="446.0" r="2.50" fill="#800000"/>
<circle cx="115.0" cy="434.0" r="2.50" fill="#800000"/>
<circle cx="120.7" cy="426.7" r="2.50" fill="#800000"/>
<circle cx="126.5" cy="424.2" r="2.50" fill="#800000"/>
<circle cx="132.2" cy="424.4" r="2.50" fill="#800000"/>
<circle cx="137.9" cy="424.4" r="2.50" fill="#800000"/>
<circle cx="143.7" cy="426.1" r="2.50" fill="#800000"/>
<circle cx="149.4" cy="429.8" r="2.50" fill="#800000"/>
<circle cx="155.2" cy="434.8" r="2.50" fill="#800000"/>
<circle cx="160.9" cy="438.4" r="2.50" fill="#800000"/>
<circle cx="166.7" cy="443.5" r="2.50" fill="#800000"/>
<circle cx="178.1" cy="453.7" r="2.50" fill="#800000"/>
<circle cx="189.6" cy="463.9" r="2.50" fill="#800000"/>
<circle cx="201.1" cy="473.0" r="2.50" fill="#800000"/>
<circle cx="212.6" cy="481.7" r="2.50" fill="#800000"/>
<circle cx="224.1" cy="489.0" r="2.50" fill="#800000"/>
<circle cx="235.6" cy="495.6" r="2.50" fill="#800000"/>
<circle cx="247.0" cy="501.0" r="2.50" fill="#800000"/>
<circle cx="270.0" cy="509.1" r="2.50" fill="#800000"/>
<circle cx="293.0" cy="515.9" r="2.50" fill="#800000"/>
<circle cx="338.9" cy="524.2" r="2.50" fill="#800000"/>
<circle cx="384.9" cy="529.5" r="2.50" fill="#800000"/>
<circle cx="430.8" cy="532.3" r="2.50" fill="#800000"/>
</g>
<text x="313.5" y="110.6" font-size="15.3"><tspan class="i">L</tspan>=12</text>
<text x="356.3" y="110.6" font-size="15.3">10</text>
<text x="390" y="111.4" font-size="16.5" class="i">δ</text>
<line x1="316.8" y1="120.2" x2="346.5" y2="120.2" stroke="#800000" stroke-width="1.0"/>
<circle cx="331.6" cy="120.2" r="2.50" fill="#800000"/>
<line x1="350" y1="120.2" x2="380.3" y2="120.2" stroke="#800000" stroke-width="1.0" stroke-dasharray="6.5 1.4 1.2 1.4" stroke-dashoffset="7.1"/>
<circle cx="365.1" cy="120.2" r="2.60" fill="none" stroke="#800000" stroke-width="1.0"/>
<text x="387.8" y="125.8" font-size="15">0.0</text>
<line x1="350" y1="135.2" x2="380.3" y2="135.2" stroke="#ff0000" stroke-width="1.0" stroke-dasharray="6.5 1.4 1.2 1.4" stroke-dashoffset="7.1"/>
<path d="M362.5 136.8L367.8 136.8L365.1 132.1Z" fill="none" stroke="#ff0000" stroke-width="1.0"/>
<text x="387.8" y="140.8" font-size="15">0.04</text>
<line x1="316.8" y1="149.9" x2="346.5" y2="149.9" stroke="#7a00ff" stroke-width="1.0"/>
<rect x="328.9" y="147.2" width="5.4" height="5.4" fill="#7a00ff"/>
<line x1="350" y1="149.9" x2="380.3" y2="149.9" stroke="#7a00ff" stroke-width="1.0" stroke-dasharray="6.5 1.4 1.2 1.4" stroke-dashoffset="7.1"/>
<rect x="362.90" y="147.65" width="4.50" height="4.50" fill="none" stroke="#7a00ff" stroke-width="1.0"/>
<text x="384.4" y="155.5" font-size="15">~0.08</text>
<line x1="350" y1="164.9" x2="380.3" y2="164.9" stroke="#0000ff" stroke-width="1.0"/>
<path d="M362.5 163.3L367.8 163.3L365.1 168.0Z" fill="none" stroke="#0000ff" stroke-width="1.0"/>
<text x="387.8" y="170.5" font-size="15">0.12</text>
<line x1="350" y1="180" x2="380.3" y2="180" stroke="#0a8c0a" stroke-width="1.0"/>
<path d="M362.0 180.0L365.1 176.6L368.2 180.0L365.1 183.4Z" fill="none" stroke="#0a8c0a" stroke-width="1.15"/>
<text x="387.8" y="185.6" font-size="15">0.16</text>
<line x1="350" y1="195" x2="380.3" y2="195" stroke="#064a06" stroke-width="1.0"/>
<path d="M365.1 191.3L366.1 193.7L368.7 193.9L366.6 195.5L367.3 198.0L365.1 196.6L363.0 198.0L363.7 195.5L361.6 193.9L364.2 193.7Z" fill="none" stroke="#064a06" stroke-width="1.1"/>
<text x="387.8" y="200.6" font-size="15">0.20</text>
<text x="317.2" y="386.5" font-size="15.3"><tspan class="i">L</tspan>=12</text>
<text x="363.5" y="386.5" font-size="15.3">10</text>
<text x="390.8" y="387.3" font-size="16.5" class="i">δ</text>
<line x1="317.6" y1="395.9" x2="347.3" y2="395.9" stroke="#800000" stroke-width="1.0"/>
<circle cx="332.5" cy="395.9" r="2.50" fill="#800000"/>
<line x1="350.8" y1="395.9" x2="380.5" y2="395.9" stroke="#800000" stroke-width="1.0" stroke-dasharray="6.5 1.4 1.2 1.4" stroke-dashoffset="7.5"/>
<circle cx="365.6" cy="395.9" r="2.60" fill="none" stroke="#800000" stroke-width="1.0"/>
<text x="388.4" y="401.5" font-size="15">0.0</text>
<line x1="350.8" y1="410.9" x2="380.5" y2="410.9" stroke="#ff0000" stroke-width="1.0"/>
<path d="M363.0 412.4L368.3 412.4L365.6 407.8Z" fill="none" stroke="#ff0000" stroke-width="1.0"/>
<text x="388.4" y="416.5" font-size="15">0.04</text>
<line x1="317.6" y1="425.8" x2="347.3" y2="425.8" stroke="#7a00ff" stroke-width="1.0"/>
<rect x="329.8" y="423.1" width="5.4" height="5.4" fill="#7a00ff"/>
<line x1="350.8" y1="425.8" x2="380.5" y2="425.8" stroke="#7a00ff" stroke-width="1.0" stroke-dasharray="6.5 1.4 1.2 1.4" stroke-dashoffset="7.5"/>
<rect x="363.40" y="423.55" width="4.50" height="4.50" fill="none" stroke="#7a00ff" stroke-width="1.0"/>
<text x="385" y="431.4" font-size="15">~0.08</text>
<line x1="350.8" y1="440.6" x2="380.5" y2="440.6" stroke="#0000ff" stroke-width="1.0"/>
<path d="M362.4 438.7L368.9 438.7L365.6 444.3Z" fill="none" stroke="#0000ff" stroke-width="1.0"/>
<text x="388.4" y="446.2" font-size="15">0.12</text>
<line x1="350.8" y1="455.6" x2="380.5" y2="455.6" stroke="#0a8c0a" stroke-width="1.0" stroke-dasharray="3.4 1.9" stroke-dashoffset="4.8"/>
<path d="M361.6 455.6L365.6 451.1L369.7 455.6L365.6 460.1Z" fill="none" stroke="#0a8c0a" stroke-width="1.15"/>
<text x="388.4" y="461.2" font-size="15">0.16</text>
<text x="60.3" y="112.7" font-size="17" text-anchor="end">0.2</text>
<text x="60.3" y="233.2" font-size="17" text-anchor="end">0.1</text>
<text x="60.3" y="353.3" font-size="17" text-anchor="end">0</text>
<text x="60.3" y="367.6" font-size="17" text-anchor="end">0.015</text>
<text x="60.3" y="427.6" font-size="17" text-anchor="end">0.01</text>
<text x="60.3" y="487.9" font-size="17" text-anchor="end">0.005</text>
<text x="63.3" y="559.8" font-size="17" text-anchor="middle">0</text>
<text x="178.14" y="559.8" font-size="17" text-anchor="middle">10</text>
<text x="292.98" y="559.8" font-size="17" text-anchor="middle">20</text>
<text x="407.82" y="559.8" font-size="17" text-anchor="middle">30</text>
<text x="245.3" y="577.8" font-size="19" text-anchor="middle" class="i">U / t</text>
<text x="79" y="113.2" font-size="20" text-anchor="start">(a)</text>
<text x="79" y="392" font-size="20" text-anchor="start">(b)</text>
<text x="220.8" y="113.4" font-size="17.5" class="i">t</text>
<text x="227.4" y="113.4" font-size="17.5">′</text>
<text x="233.7" y="114.2" font-size="20.5" class="i">/</text>
<text x="242.6" y="113.4" font-size="17.5" class="i">t</text>
<text x="250.2" y="115.10000000000001" font-size="19.5">=</text>
<text x="264.9" y="113.4" font-size="17">-0.3</text>
<text x="220.8" y="391.5" font-size="17.5" class="i">t</text>
<text x="227.4" y="391.5" font-size="17.5">′</text>
<text x="233.7" y="392.3" font-size="20.5" class="i">/</text>
<text x="242.6" y="391.5" font-size="17.5" class="i">t</text>
<text x="250.2" y="393.2" font-size="19.5">=</text>
<text x="264.9" y="391.5" font-size="17">0.0</text>
<text x="323.6" y="227.6" font-size="16.8" class="i">E</text>
<text x="334.3" y="230.79999999999998" font-size="12">AF</text>
<text x="354.3" y="227.6" font-size="16.8">-</text>
<text x="362" y="227.6" font-size="16.8" class="i">E</text>
<text x="372.7" y="230.79999999999998" font-size="12">AF</text>
<text x="387.9" y="227.6" font-size="16.8">(BR)</text>
<text transform="translate(24.2,199.8) rotate(-90)" font-size="18.3" text-anchor="middle" class="i">ΔE / t</text>
<text transform="translate(27,447.7) rotate(-90)" font-size="18.3" text-anchor="middle" class="i">ΔE / t</text>
</svg></body></html>
